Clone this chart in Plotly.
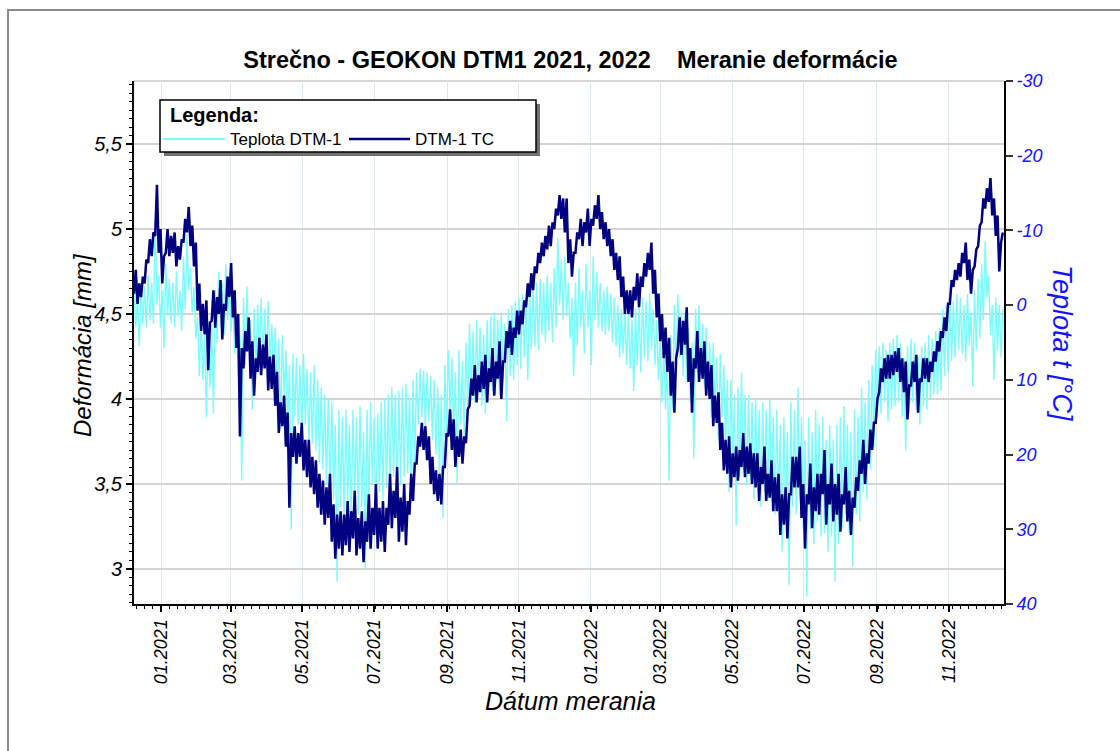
import pandas as pd
import plotly.graph_objects as go

# ---- data -------------------------------------------------------------
start_date = "2020-12-09"
step = "36h"

# DTM-1 TC deformation [mm] (readings every 36 h)
dtm_tc_mm = [
    4.62, 4.76, 4.56, 4.68, 4.60, 4.72, 4.68, 4.82, 4.80, 4.94, 4.84, 4.98, 4.96, 5.26, 4.86, 5.00, 4.68, 4.84, 4.86, 5.00,
    4.84, 4.96, 4.86, 4.98, 4.78, 4.90, 4.82, 4.94, 4.92, 5.06, 4.98, 5.13, 4.90, 5.02, 4.78, 4.92, 4.52, 4.68, 4.40, 4.56,
    4.38, 4.58, 4.17, 4.45, 4.46, 4.64, 4.42, 4.60, 4.50, 4.70, 4.35, 4.56, 4.52, 4.72, 4.60, 4.80, 4.48, 4.64, 4.30, 4.50,
    3.78, 4.30, 4.18, 4.40, 4.28, 4.48, 4.12, 4.34, 4.02, 4.24, 4.16, 4.36, 4.14, 4.32, 4.18, 4.38, 4.05, 4.25, 4.06, 4.26,
    3.96, 4.16, 3.80, 3.98, 3.84, 4.02, 3.72, 3.92, 3.36, 3.80, 3.66, 3.84, 3.62, 3.80, 3.66, 3.86, 3.58, 3.76, 3.54, 3.76,
    3.48, 3.66, 3.44, 3.64, 3.36, 3.56, 3.32, 3.52, 3.26, 3.48, 3.30, 3.56, 3.16, 3.38, 3.06, 3.32, 3.12, 3.34, 3.08, 3.32,
    3.14, 3.40, 3.10, 3.34, 3.18, 3.46, 3.08, 3.30, 3.12, 3.34, 3.04, 3.28, 3.16, 3.44, 3.12, 3.36, 3.20, 3.50, 3.12, 3.36,
    3.16, 3.40, 3.10, 3.36, 3.26, 3.56, 3.24, 3.46, 3.30, 3.60, 3.16, 3.42, 3.22, 3.50, 3.14, 3.40, 3.32, 3.56, 3.40, 3.62,
    3.62, 3.78, 3.72, 3.86, 3.70, 3.84, 3.64, 3.78, 3.50, 3.66, 3.44, 3.58, 3.40, 3.56, 3.38, 3.60, 3.60, 3.80, 3.78, 3.94,
    3.70, 3.88, 3.60, 3.78, 3.66, 3.82, 3.62, 3.78, 3.74, 3.94, 3.96, 4.12, 4.02, 4.20, 3.98, 4.14, 4.04, 4.22, 4.06, 4.26,
    3.98, 4.18, 4.10, 4.30, 4.02, 4.22, 4.12, 4.34, 4.00, 4.22, 4.22, 4.40, 4.30, 4.46, 4.26, 4.42, 4.36, 4.52, 4.38, 4.52,
    4.44, 4.58, 4.54, 4.68, 4.60, 4.74, 4.64, 4.78, 4.74, 4.86, 4.80, 4.92, 4.84, 4.96, 4.88, 5.02, 4.90, 5.04, 5.00, 5.12,
    5.08, 5.20, 5.06, 5.18, 4.98, 5.18, 4.80, 4.94, 4.72, 4.86, 4.86, 4.98, 4.94, 5.06, 4.90, 5.04, 4.98, 5.12, 4.90, 5.06,
    5.02, 5.14, 5.06, 5.20, 5.00, 5.10, 4.94, 5.04, 4.90, 5.00, 4.84, 4.94, 4.76, 4.86, 4.70, 4.84, 4.60, 4.72, 4.50, 4.64,
    4.50, 4.64, 4.48, 4.66, 4.58, 4.74, 4.54, 4.72, 4.66, 4.80, 4.72, 4.86, 4.76, 4.92, 4.62, 4.76, 4.48, 4.62, 4.34, 4.50,
    4.24, 4.42, 4.16, 4.36, 4.02, 4.22, 3.92, 4.24, 4.30, 4.48, 4.26, 4.46, 4.32, 4.54, 4.10, 4.30, 3.92, 4.24, 4.18, 4.40,
    4.10, 4.30, 4.12, 4.34, 4.02, 4.22, 4.00, 4.20, 3.84, 4.02, 3.86, 4.04, 3.70, 3.86, 3.58, 3.76, 3.56, 3.78, 3.48, 3.68,
    3.54, 3.72, 3.52, 3.70, 3.60, 3.80, 3.54, 3.72, 3.56, 3.74, 3.50, 3.68, 3.48, 3.68, 3.40, 3.60, 3.50, 3.72, 3.40, 3.56,
    3.42, 3.64, 3.34, 3.54, 3.34, 3.56, 3.20, 3.44, 3.26, 3.48, 3.18, 3.44, 3.44, 3.66, 3.48, 3.66, 3.48, 3.72, 3.30, 3.50,
    3.12, 3.44, 3.38, 3.62, 3.24, 3.48, 3.34, 3.56, 3.32, 3.56, 3.44, 3.70, 3.26, 3.50, 3.38, 3.62, 3.28, 3.50, 3.32, 3.56,
    3.22, 3.44, 3.38, 3.60, 3.28, 3.46, 3.20, 3.42, 3.36, 3.54, 3.46, 3.64, 3.56, 3.76, 3.50, 3.68, 3.62, 3.82, 3.70, 3.86,
    3.86, 4.00, 4.04, 4.18, 4.10, 4.24, 4.12, 4.26, 4.12, 4.26, 4.14, 4.28, 4.16, 4.30, 4.10, 4.24, 4.04, 4.22, 3.88, 4.08,
    4.08, 4.22, 4.10, 4.26, 3.92, 4.12, 4.10, 4.24, 4.12, 4.24, 4.10, 4.22, 4.16, 4.28, 4.22, 4.34, 4.28, 4.40, 4.36, 4.48,
    4.40, 4.56, 4.56, 4.70, 4.66, 4.76, 4.70, 4.80, 4.72, 4.86, 4.80, 4.92, 4.70, 4.82, 4.62, 4.76, 4.78, 4.88, 4.90, 5.02,
    5.04, 5.18, 5.12, 5.24, 5.16, 5.30, 5.08, 5.18, 4.96, 5.08, 4.75, 4.92, 4.98,
]

# Teplota DTM-1 temperature [°C] (readings every 36 h)
teplota_c = [
    -2.0, 3.0, -1.0, 5.5, -3.0, 2.5, -2.5, 3.0, -4.0, 2.0, -3.0, 2.5, -11.5, 0.0, -4.0, 3.0, -2.0, 5.8, -5.5, 1.5,
    -3.5, 2.5, -3.0, 3.0, -4.5, 1.5, -2.0, 3.5, -6.5, 0.5, -9.5, -2.0, -5.0, 1.0, -2.5, 4.5, 1.5, 9.5, 2.0, 10.0,
    4.0, 15.0, 3.0, 11.0, 2.5, 14.5, -2.0, 5.0, -4.5, 3.0, -3.0, 4.0, -5.5, 2.0, -3.0, 3.5, -1.0, 6.5, 2.0, 9.5,
    4.0, 23.5, -1.0, 8.0, -2.5, 6.0, 2.0, 14.0, 0.5, 9.0, 0.0, 7.5, -1.0, 7.0, 0.5, 8.0, -0.5, 7.5, 2.5, 9.5,
    3.0, 11.0, 4.5, 16.5, 4.0, 12.0, 6.0, 17.0, 8.0, 30.0, 6.5, 15.0, 7.0, 16.0, 8.0, 17.5, 6.5, 16.0, 8.5, 19.0,
    9.0, 18.5, 8.0, 19.5, 10.0, 21.0, 11.0, 22.0, 12.0, 24.0, 12.5, 25.0, 13.0, 26.0, 16.0, 37.0, 14.0, 27.0, 15.0, 28.5,
    14.0, 26.5, 16.0, 29.0, 14.0, 26.0, 15.0, 28.0, 13.5, 27.0, 17.0, 35.5, 14.0, 26.0, 13.0, 24.0, 15.0, 29.0, 14.5, 25.0,
    13.0, 26.0, 12.5, 24.5, 12.0, 25.0, 11.0, 23.0, 12.0, 26.0, 11.5, 24.0, 11.0, 23.0, 10.5, 22.5, 12.0, 26.5, 10.0, 21.0,
    9.0, 16.0, 8.5, 15.0, 8.8, 16.5, 9.0, 15.5, 9.5, 18.0, 10.0, 20.0, 11.0, 22.5, 12.0, 28.5, 8.0, 17.0, 6.0, 14.0,
    7.0, 17.0, 9.0, 24.0, 6.0, 16.0, 7.5, 17.5, 5.0, 14.0, 2.5, 12.0, 3.5, 13.0, 2.0, 11.0, 3.0, 13.5, 4.0, 14.5,
    2.0, 11.0, 1.5, 11.5, 1.0, 10.0, 2.0, 12.0, 1.0, 10.5, 2.5, 15.5, 0.5, 9.5, 0.0, 10.0, -0.5, 8.0, -1.0, 8.5,
    -1.5, 7.0, -1.0, 10.0, -2.0, 6.0, -2.5, 5.5, -3.0, 6.0, -3.5, 4.0, -3.0, 5.0, -4.0, 3.5, -3.0, 5.0, -5.0, 3.0,
    -9.0, 0.0, -6.0, 2.0, -6.5, 1.5, -3.0, 4.5, -1.0, 9.5, -3.0, 5.5, -5.0, 3.0, -2.0, 6.5, -5.5, 3.0, -2.0, 8.0,
    -6.5, 2.0, -4.5, 3.0, -3.0, 3.5, -2.0, 4.0, -2.5, 3.5, -1.5, 5.0, -1.0, 5.5, 0.0, 7.0, 0.5, 6.5, 1.0, 8.0,
    1.0, 8.5, 2.0, 11.5, 0.5, 8.0, 0.0, 9.0, -1.0, 7.0, -0.5, 7.5, -1.5, 6.0, 0.5, 8.0, 2.0, 10.0, 4.0, 13.0,
    6.0, 14.0, 7.0, 23.5, 4.0, 14.0, 0.0, 9.0, -1.5, 7.0, 1.0, 9.5, 1.0, 10.0, 3.0, 13.0, 5.0, 20.5, 0.5, 9.0,
    0.0, 9.5, 2.5, 11.0, 3.0, 12.0, 5.0, 15.0, 5.0, 14.0, 7.0, 18.0, 6.5, 15.0, 8.0, 19.0, 10.0, 25.0, 10.0, 21.0,
    12.0, 29.5, 11.0, 23.0, 9.0, 22.0, 12.0, 24.0, 12.0, 23.5, 13.0, 26.0, 12.5, 24.0, 14.0, 27.0, 13.0, 25.0, 14.0, 26.0,
    12.5, 25.5, 15.0, 28.0, 14.0, 27.0, 16.0, 33.0, 15.0, 29.0, 17.0, 37.5, 13.0, 27.0, 14.0, 28.0, 11.0, 26.0, 15.0, 30.0,
    18.0, 39.0, 15.0, 30.0, 17.0, 32.0, 14.0, 29.0, 16.0, 31.0, 15.0, 30.5, 18.0, 33.0, 16.0, 31.0, 18.0, 37.0, 16.0, 32.0,
    15.0, 30.0, 13.5, 28.0, 16.0, 30.5, 17.0, 35.0, 14.0, 28.0, 15.0, 29.0, 11.0, 25.0, 13.0, 26.0, 10.0, 22.0, 8.0, 19.0,
    6.0, 15.0, 5.5, 14.5, 5.0, 13.0, 6.0, 15.5, 5.0, 14.0, 4.5, 13.5, 4.0, 13.0, 5.0, 15.0, 7.0, 19.5, 5.5, 14.5,
    4.5, 13.0, 5.0, 14.0, 7.0, 16.0, 5.5, 13.5, 5.0, 14.0, 4.0, 12.5, 4.5, 12.0, 3.5, 12.0, 3.0, 11.5, 0.5, 9.5,
    0.0, 9.0, -1.0, 7.5, -0.5, 7.0, -1.5, 6.0, -1.0, 6.5, 0.0, 7.5, -1.5, 5.5, 1.0, 11.0, -2.0, 6.0, -3.5, 4.5,
    -5.5, 2.0, -8.5, -1.0, -4.0, 4.0, 0.0, 10.0, -1.0, 6.0, 0.0, 7.0, 0.5,
]

dates = pd.date_range(start_date, periods=len(dtm_tc_mm), freq=step)

x_range = ["2020-12-09", "2022-12-18"]
left_range = [2.794, 5.871]
right_range = [40, -30]
left_tickvals = [3, 3.5, 4, 4.5, 5, 5.5]
left_ticktext = ["3", "3,5", "4", "4,5", "5", "5,5"]
right_tickvals = [-30, -20, -10, 0, 10, 20, 30, 40]
right_ticktext = ["-30", "-20", "-10", "0", "10", "20", "30", "40"]

# ---- page geometry ----------------------------------------------------
W, H = 1120, 751
ML, MR, MT, MB = 134, 116, 81, 147
PW, PH = W - ML - MR, H - MT - MB


def px(x):
    return (x - ML) / PW


def py(y):
    return (H - MB - y) / PH


FONT = "Liberation Sans, Arial, sans-serif"
CYAN = "#7dfbfb"
NAVY = "#000080"
BLUE = "#1414ff"

fig = go.Figure()

# temperature on the right (reversed) axis, deformation drawn above it
fig.add_trace(go.Scatter(
    x=dates, y=teplota_c, name="Teplota DTM-1", mode="lines",
    line=dict(color=CYAN, width=1.4), yaxis="y", showlegend=False,
))
fig.add_trace(go.Scatter(
    x=dates, y=dtm_tc_mm, name="DTM-1 TC", mode="lines",
    line=dict(color=NAVY, width=2.5), yaxis="y2", showlegend=False,
))

fig.update_layout(
    width=W, height=H,
    margin=dict(l=ML, r=MR, t=MT, b=MB, pad=0),
    paper_bgcolor="white", plot_bgcolor="white",
    font=dict(family=FONT, color="black"),
    showlegend=False,
    title=dict(
        text="Strečno - GEOKON DTM1 2021, 2022\u00a0\u00a0\u00a0 Meranie deformácie",
        x=570.5 / W, xanchor="center", xref="container",
        y=1 - 60 / H, yanchor="middle", yref="container",
        font=dict(family=FONT, size=23.5, color="black", weight="bold"),
    ),
    xaxis=dict(
        type="date", range=x_range,
        tick0="2021-01-01", dtick="M2", tickformat="%m.%Y", tickangle=-90,
        tickfont=dict(family=FONT, size=18, style="italic", color="black"),
        ticks="outside", ticklen=6, tickwidth=1.5, tickcolor="black",
        showline=True, linecolor="black", linewidth=2,
        showgrid=True, gridcolor="#dde9e9", gridwidth=1,
        zeroline=False,
        minor=dict(dtick=7 * 86400000, tick0="2020-12-11", ticks="outside",
                   ticklen=3, tickwidth=1, tickcolor="black", showgrid=False),
    ),
    yaxis=dict(
        side="right", range=right_range,
        tickvals=right_tickvals, ticktext=right_ticktext,
        tickfont=dict(family=FONT, size=18, style="italic", color=BLUE),
        ticks="outside", ticklen=7, tickwidth=1.5, tickcolor="#333333",
        showline=True, linecolor="black", linewidth=2,
        showgrid=False, zeroline=False,
    ),
    yaxis2=dict(
        overlaying="y", side="left", range=left_range,
        tickvals=left_tickvals, ticktext=left_ticktext,
        tickfont=dict(family=FONT, size=20, style="italic", color="black"),
        ticks="outside", ticklen=6, tickwidth=1.5, tickcolor="black",
        showline=True, linecolor="black", linewidth=2,
        showgrid=True, gridcolor="#d4d4d4", gridwidth=1.5, zeroline=False,
        minor=dict(dtick=0.05, tick0=3, ticks="outside", ticklen=3,
                   tickwidth=1, tickcolor="black", showgrid=False),
    ),
)

shapes = [
    # outer page frame
    dict(type="rect", xref="paper", yref="paper",
         x0=px(8), x1=px(1135), y0=py(765), y1=py(10),
         line=dict(color="#8a8a8a", width=2), fillcolor="rgba(0,0,0,0)",
         layer="below"),
    # top edge of the plotting area
    dict(type="line", xref="paper", yref="paper", x0=0, x1=1, y0=1, y1=1,
         line=dict(color="#c8c8c8", width=1.5), layer="below"),
    # legend shadow and box
    dict(type="rect", xref="paper", yref="paper",
         x0=px(164), x1=px(540), y0=py(156), y1=py(104),
         line=dict(width=0), fillcolor="#707070", layer="above"),
    dict(type="rect", xref="paper", yref="paper",
         x0=px(160), x1=px(536), y0=py(152), y1=py(100),
         line=dict(color="black", width=1.5), fillcolor="white", layer="above"),
    # legend line samples
    dict(type="line", xref="paper", yref="paper",
         x0=px(163), x1=px(225), y0=py(139), y1=py(139),
         line=dict(color=CYAN, width=2), layer="above"),
    dict(type="line", xref="paper", yref="paper",
         x0=px(349), x1=px(410), y0=py(139), y1=py(139),
         line=dict(color=NAVY, width=2.5), layer="above"),
]

annotations = [
    dict(text="<b>Legenda:</b>", x=px(168), y=py(115), xref="paper", yref="paper",
         xanchor="left", yanchor="middle", showarrow=False,
         font=dict(family=FONT, size=20, color="black")),
    dict(text="Teplota DTM-1", x=px(228), y=py(139), xref="paper", yref="paper",
         xanchor="left", yanchor="middle", showarrow=False,
         font=dict(family=FONT, size=17, color="black")),
    dict(text="DTM-1 TC", x=px(413), y=py(139), xref="paper", yref="paper",
         xanchor="left", yanchor="middle", showarrow=False,
         font=dict(family=FONT, size=17, color="black")),
    # axis titles
    dict(text="Deformácia [mm]", x=px(82), y=py(345), xref="paper", yref="paper",
         textangle=-90, showarrow=False, xanchor="center", yanchor="middle",
         font=dict(family=FONT, size=24, style="italic", color="black")),
    dict(text="Teplota t [°C]", x=px(1062), y=py(343), xref="paper", yref="paper",
         textangle=90, showarrow=False, xanchor="center", yanchor="middle",
         font=dict(family=FONT, size=27, style="italic", color=BLUE)),
    dict(text="Dátum merania", x=px(570), y=py(701), xref="paper", yref="paper",
         showarrow=False, xanchor="center", yanchor="middle",
         font=dict(family=FONT, size=25, style="italic", color="black")),
]

fig.update_layout(shapes=shapes, annotations=annotations)

fig.write_html("out.html", include_plotlyjs=True, config={"displayModeBar": False})
